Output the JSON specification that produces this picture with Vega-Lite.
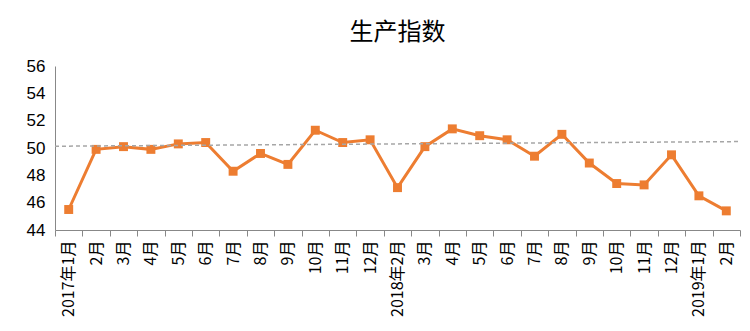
{
  "$schema": "https://vega.github.io/schema/vega-lite/v6.json",
  "width": 750,
  "height": 331,
  "autosize": {"type": "fit", "contains": "padding"},
  "padding": {"left": 26, "top": 21, "right": 7, "bottom": 14},
  "background": "white",
  "title": {"text": "生产指数", "font": "Noto Sans CJK SC", "fontSize": 24, "fontWeight": "normal", "color": "#000000", "offset": 12, "anchor": "middle"},
  "config": {"view": {"stroke": null}, "axis": {"domainColor": "#888888", "tickColor": "#888888", "labelColor": "#000000", "labelFont": "Liberation Sans", "grid": false, "title": null}},
  "datasets": {
    "main": [
      {"m": "2017年1月", "v": 45.5},
      {"m": "2017年2月", "v": 49.9},
      {"m": "2017年3月", "v": 50.1},
      {"m": "2017年4月", "v": 49.9},
      {"m": "2017年5月", "v": 50.3},
      {"m": "2017年6月", "v": 50.4},
      {"m": "2017年7月", "v": 48.3},
      {"m": "2017年8月", "v": 49.6},
      {"m": "2017年9月", "v": 48.8},
      {"m": "2017年10月", "v": 51.3},
      {"m": "2017年11月", "v": 50.4},
      {"m": "2017年12月", "v": 50.6},
      {"m": "2018年2月", "v": 47.1},
      {"m": "2018年3月", "v": 50.1},
      {"m": "2018年4月", "v": 51.4},
      {"m": "2018年5月", "v": 50.9},
      {"m": "2018年6月", "v": 50.6},
      {"m": "2018年7月", "v": 49.4},
      {"m": "2018年8月", "v": 51.0},
      {"m": "2018年9月", "v": 48.9},
      {"m": "2018年10月", "v": 47.4},
      {"m": "2018年11月", "v": 47.3},
      {"m": "2018年12月", "v": 49.5},
      {"m": "2019年1月", "v": 46.5},
      {"m": "2019年2月", "v": 45.4}
    ],
    "trend": [
      {"t": 0, "v": 50.13},
      {"t": 1, "v": 50.47}
    ]
  },
  "layer": [
    {
      "data": {"name": "main"},
      "mark": {"type": "line", "color": "#ED7D31", "strokeWidth": 3, "point": {"shape": "square", "size": 80, "filled": true, "color": "#ED7D31"}},
      "encoding": {
        "x": {"field": "m", "type": "ordinal", "sort": null, "scale": {"type": "band", "paddingInner": 0, "paddingOuter": 0},
          "axis": {"labelAngle": -90, "labelFontSize": 16, "labelFont": "Noto Sans CJK SC", "tickSize": 6, "labelPadding": 4, "tickBand": "extent",
            "labelExpr": "(datum.label == '2017年1月' || datum.label == '2018年2月' || datum.label == '2019年1月') ? datum.label : slice(datum.label, 5)"}},
        "y": {"field": "v", "type": "quantitative", "scale": {"domain": [44, 56], "nice": false, "zero": false},
          "axis": {"values": [44, 46, 48, 50, 52, 54, 56], "labelFontSize": 17, "ticks": false, "labelPadding": 10}}
      }
    },
    {
      "data": {"name": "trend"},
      "mark": {"type": "line", "color": "#A6A6A6", "strokeWidth": 1.5, "strokeDash": [4, 3]},
      "encoding": {
        "x": {"field": "t", "type": "quantitative", "scale": {"domain": [0, 1], "nice": false, "zero": false}, "axis": null},
        "y": {"field": "v", "type": "quantitative",
          "axis": {"values": [44, 46, 48, 50, 52, 54, 56], "labelFontSize": 17, "ticks": false, "labelPadding": 10}}
      }
    }
  ],
  "resolve": {"scale": {"x": "independent"}}
}
